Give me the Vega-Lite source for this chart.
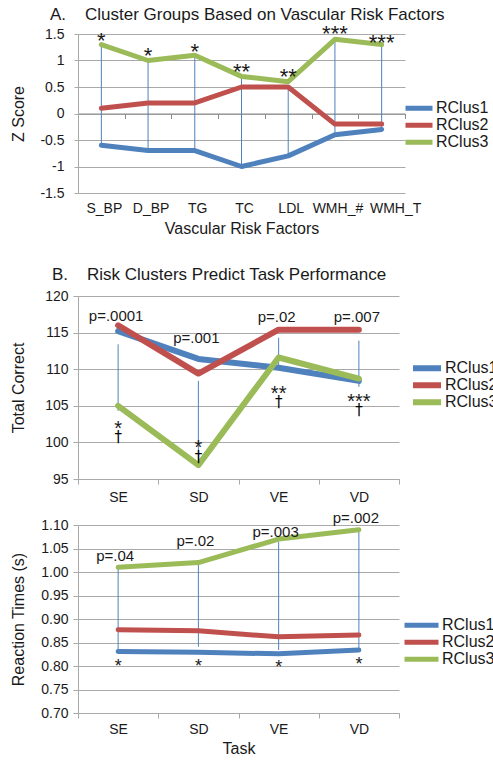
{
  "$schema": "https://vega.github.io/schema/vega-lite/v6.json",
  "padding": {"left": 10, "top": 6, "right": 0, "bottom": 0},
  "config": {
    "font": "Liberation Sans",
    "view": {"stroke": null},
    "axis": {
      "labelFont": "Liberation Sans", "titleFont": "Liberation Sans",
      "labelFontSize": 14, "titleFontSize": 16, "titleFontWeight": "normal",
      "labelColor": "#1a1a1a", "titleColor": "#1a1a1a",
      "gridColor": "#a9a9a9", "domainColor": "#a9a9a9", "tickColor": "#a9a9a9",
      "tickSize": 5, "labelOverlap": false
    },
    "legend": {"orient": "none", "title": null, "labelFontSize": 16, "labelColor": "#1a1a1a", "labelFont": "Liberation Sans", "symbolType": "stroke", "rowPadding": 0, "labelOffset": 1, "padding": 0, "clipHeight": 15.5},
    "title": {"fontSize": 17, "fontWeight": "normal", "anchor": "start", "frame": "group", "color": "#1a1a1a", "font": "Liberation Sans"},
    "concat": {"spacing": 7}
  },
  "resolve": {"scale": {"color": "independent"}, "legend": {"color": "independent"}},
  "datasets": {
    "zA": [
      {"factor": "S_BP", "cluster": "RClus1", "z": -0.6}, {"factor": "S_BP", "cluster": "RClus2", "z": 0.1}, {"factor": "S_BP", "cluster": "RClus3", "z": 1.3},
      {"factor": "D_BP", "cluster": "RClus1", "z": -0.7}, {"factor": "D_BP", "cluster": "RClus2", "z": 0.2}, {"factor": "D_BP", "cluster": "RClus3", "z": 1.0},
      {"factor": "TG", "cluster": "RClus1", "z": -0.7}, {"factor": "TG", "cluster": "RClus2", "z": 0.2}, {"factor": "TG", "cluster": "RClus3", "z": 1.1},
      {"factor": "TC", "cluster": "RClus1", "z": -1.0}, {"factor": "TC", "cluster": "RClus2", "z": 0.5}, {"factor": "TC", "cluster": "RClus3", "z": 0.7},
      {"factor": "LDL", "cluster": "RClus1", "z": -0.8}, {"factor": "LDL", "cluster": "RClus2", "z": 0.5}, {"factor": "LDL", "cluster": "RClus3", "z": 0.6},
      {"factor": "WMH_#", "cluster": "RClus1", "z": -0.4}, {"factor": "WMH_#", "cluster": "RClus2", "z": -0.2}, {"factor": "WMH_#", "cluster": "RClus3", "z": 1.4},
      {"factor": "WMH_T", "cluster": "RClus1", "z": -0.3}, {"factor": "WMH_T", "cluster": "RClus2", "z": -0.2}, {"factor": "WMH_T", "cluster": "RClus3", "z": 1.3}
    ],
    "rulesA": [
      {"factor": "S_BP", "lo": -0.6, "hi": 1.3}, {"factor": "D_BP", "lo": -0.7, "hi": 1.0},
      {"factor": "TG", "lo": -0.7, "hi": 1.1}, {"factor": "TC", "lo": -1.0, "hi": 0.7},
      {"factor": "LDL", "lo": -0.8, "hi": 0.5}, {"factor": "WMH_#", "lo": -0.4, "hi": 1.4},
      {"factor": "WMH_T", "lo": -0.3, "hi": 1.3}
    ],
    "starsA": [
      {"factor": "S_BP", "label": "*", "z": 1.49}, {"factor": "D_BP", "label": "*", "z": 1.2},
      {"factor": "TG", "label": "*", "z": 1.27}, {"factor": "TC", "label": "**", "z": 0.89},
      {"factor": "LDL", "label": "**", "z": 0.81}, {"factor": "WMH_#", "label": "***", "z": 1.61},
      {"factor": "WMH_T", "label": "***", "z": 1.45}
    ],
    "totB": [
      {"task": "SE", "cluster": "RClus1", "total": 115.2}, {"task": "SE", "cluster": "RClus2", "total": 116.0}, {"task": "SE", "cluster": "RClus3", "total": 105.0},
      {"task": "SD", "cluster": "RClus1", "total": 111.4}, {"task": "SD", "cluster": "RClus2", "total": 109.4}, {"task": "SD", "cluster": "RClus3", "total": 96.9},
      {"task": "VE", "cluster": "RClus1", "total": 110.2}, {"task": "VE", "cluster": "RClus2", "total": 115.4}, {"task": "VE", "cluster": "RClus3", "total": 111.6},
      {"task": "VD", "cluster": "RClus1", "total": 108.4}, {"task": "VD", "cluster": "RClus2", "total": 115.4}, {"task": "VD", "cluster": "RClus3", "total": 108.7}
    ],
    "rulesB": [
      {"task": "SE", "lo": 104.3, "hi": 113.4}, {"task": "SD", "lo": 97.5, "hi": 108.4},
      {"task": "VE", "lo": 110.2, "hi": 114.3}, {"task": "VD", "lo": 107.6, "hi": 113.9}
    ],
    "pB": [
      {"task": "SE", "label": "p=.0001", "total": 117.3}, {"task": "SD", "label": "p=.001", "total": 114.2},
      {"task": "VE", "label": "p=.02", "total": 117.1}, {"task": "VD", "label": "p=.007", "total": 117.1}
    ],
    "starsB": [
      {"task": "SE", "label": "*", "total": 102.6}, {"task": "SD", "label": "*", "total": 100.0},
      {"task": "VE", "label": "**", "total": 107.5}, {"task": "VD", "label": "***", "total": 106.4}
    ],
    "dagB": [
      {"task": "SE", "label": "†", "total": 100.7}, {"task": "SD", "label": "†", "total": 98.0},
      {"task": "VE", "label": "†", "total": 105.5}, {"task": "VD", "label": "†", "total": 104.4}
    ],
    "rtC": [
      {"task": "SE", "cluster": "RClus1", "rt": 0.831}, {"task": "SE", "cluster": "RClus2", "rt": 0.877}, {"task": "SE", "cluster": "RClus3", "rt": 1.01},
      {"task": "SD", "cluster": "RClus1", "rt": 0.829}, {"task": "SD", "cluster": "RClus2", "rt": 0.875}, {"task": "SD", "cluster": "RClus3", "rt": 1.02},
      {"task": "VE", "cluster": "RClus1", "rt": 0.826}, {"task": "VE", "cluster": "RClus2", "rt": 0.862}, {"task": "VE", "cluster": "RClus3", "rt": 1.07},
      {"task": "VD", "cluster": "RClus1", "rt": 0.834}, {"task": "VD", "cluster": "RClus2", "rt": 0.866}, {"task": "VD", "cluster": "RClus3", "rt": 1.09}
    ],
    "rulesC": [
      {"task": "SE", "lo": 0.830, "hi": 1.010}, {"task": "SD", "lo": 0.841, "hi": 1.015},
      {"task": "VE", "lo": 0.834, "hi": 1.064}, {"task": "VD", "lo": 0.832, "hi": 1.091}
    ],
    "pC": [
      {"task": "SE", "label": "p=.04", "rt": 1.033}, {"task": "SD", "label": "p=.02", "rt": 1.067},
      {"task": "VE", "label": "p=.003", "rt": 1.086}, {"task": "VD", "label": "p=.002", "rt": 1.114}
    ],
    "starsC": [
      {"task": "SE", "label": "*", "rt": 0.809}, {"task": "SD", "label": "*", "rt": 0.809},
      {"task": "VE", "label": "*", "rt": 0.806}, {"task": "VD", "label": "*", "rt": 0.813}
    ]
  },
  "vconcat": [
    {
      "title": {"text": "A.\u00a0\u00a0\u00a0\u00a0Cluster Groups Based on Vascular Risk Factors", "dx": -28, "offset": -1},
      "width": 327,
      "height": 159,
      "resolve": {"axis": {"x": "independent"}},
      "layer": [
        {
          "data": {"name": "rulesA"},
          "mark": {"type": "rule", "color": "#4F81BD", "strokeWidth": 1},
          "encoding": {
            "x": {"field": "factor", "type": "nominal", "sort": ["S_BP", "D_BP", "TG", "TC", "LDL", "WMH_#", "WMH_T"], "bandPosition": 0.5,
              "scale": {"type": "band", "paddingInner": 0, "paddingOuter": 0},
              "axis": {"orient": "bottom", "offset": -79.5, "labels": false, "title": null, "domain": true, "domainColor": "#8c8c8c", "ticks": true, "tickColor": "#8c8c8c", "tickBand": "extent", "tickSize": 5, "grid": false}},
            "y": {"field": "lo", "type": "quantitative", "scale": {"domain": [-1.5, 1.5], "nice": false, "zero": false},
              "axis": {"values": [-1.5, -1, -0.5, 0, 0.5, 1, 1.5], "labelExpr": "'' + datum.value", "title": "Z Score", "grid": true, "tickSize": 4, "labelPadding": 10, "titlePadding": 13}},
            "y2": {"field": "hi"}
          }
        },
        {
          "data": {"name": "zA"},
          "mark": {"type": "line", "strokeWidth": 5, "strokeCap": "round", "strokeJoin": "round"},
          "encoding": {
            "x": {"field": "factor", "type": "nominal", "sort": ["S_BP", "D_BP", "TG", "TC", "LDL", "WMH_#", "WMH_T"], "bandPosition": 0.5,
              "axis": {"orient": "bottom", "domain": false, "ticks": false, "grid": false, "labelAngle": 0, "labelPadding": 8, "labelFontSize": 14,
                "labelOffset": {"condition": {"test": "datum.value === 'WMH_T'", "value": 14}, "value": 3},
                "title": "Vascular Risk Factors", "titlePadding": 5}},
            "y": {"field": "z", "type": "quantitative",
              "axis": {"values": [-1.5, -1, -0.5, 0, 0.5, 1, 1.5], "labelExpr": "'' + datum.value", "title": "Z Score", "grid": true, "tickSize": 4, "labelPadding": 10, "titlePadding": 13}},
            "color": {"field": "cluster", "type": "nominal",
              "scale": {"domain": ["RClus1", "RClus2", "RClus3"], "range": ["#4F81BD", "#C0504D", "#9BBB59"]},
              "legend": {"legendX": 325, "legendY": 66.5, "symbolStrokeWidth": 5, "symbolSize": 729}}
          }
        },
        {
          "data": {"name": "starsA"},
          "mark": {"type": "text", "fontSize": 22, "baseline": "middle", "dy": 6, "color": "#1a1a1a", "font": "Liberation Sans"},
          "encoding": {
            "x": {"field": "factor", "type": "nominal", "sort": ["S_BP", "D_BP", "TG", "TC", "LDL", "WMH_#", "WMH_T"], "bandPosition": 0.5, "axis": null},
            "y": {"field": "z", "type": "quantitative",
              "axis": {"values": [-1.5, -1, -0.5, 0, 0.5, 1, 1.5], "labelExpr": "'' + datum.value", "title": "Z Score", "grid": true, "tickSize": 4, "labelPadding": 10, "titlePadding": 13}},
            "text": {"field": "label"}
          }
        }
      ]
    },
    {
      "title": {"text": ["\u00a0", "B.\u00a0\u00a0\u00a0\u00a0Risk Clusters Predict Task Performance"], "lineHeight": 23, "dx": -26, "offset": 5},
      "width": 321,
      "height": 183,
      "layer": [
        {
          "data": {"name": "rulesB"},
          "mark": {"type": "rule", "color": "#4F81BD", "strokeWidth": 1},
          "encoding": {
            "x": {"field": "task", "type": "nominal", "sort": ["SE", "SD", "VE", "VD"], "bandPosition": 0.5,
              "scale": {"type": "band", "paddingInner": 0, "paddingOuter": 0},
              "axis": {"orient": "bottom", "title": null, "domain": true, "ticks": true, "tickBand": "extent", "tickSize": 5, "labelPadding": 6, "labelAngle": 0, "grid": false}},
            "y": {"field": "lo", "type": "quantitative", "scale": {"domain": [95, 120], "nice": false, "zero": false},
              "axis": {"values": [95, 100, 105, 110, 115, 120], "title": "Total Correct", "grid": true, "tickSize": 5, "labelPadding": 5, "titlePadding": 18}},
            "y2": {"field": "hi"}
          }
        },
        {
          "data": {"name": "totB"},
          "mark": {"type": "line", "strokeWidth": 6, "strokeCap": "round", "strokeJoin": "round"},
          "encoding": {
            "x": {"field": "task", "type": "nominal", "sort": ["SE", "SD", "VE", "VD"], "bandPosition": 0.5,
              "axis": {"orient": "bottom", "title": null, "domain": true, "ticks": true, "tickBand": "extent", "tickSize": 5, "labelPadding": 6, "labelAngle": 0, "grid": false}},
            "y": {"field": "total", "type": "quantitative",
              "axis": {"values": [95, 100, 105, 110, 115, 120], "title": "Total Correct", "grid": true, "tickSize": 5, "labelPadding": 5, "titlePadding": 18}},
            "color": {"field": "cluster", "type": "nominal",
              "scale": {"domain": ["RClus1", "RClus2", "RClus3"], "range": ["#4F81BD", "#C0504D", "#9BBB59"]},
              "legend": {"legendX": 332, "legendY": 64.5, "symbolStrokeWidth": 6, "symbolSize": 784}}
          }
        },
        {
          "data": {"name": "pB"},
          "mark": {"type": "text", "fontSize": 15, "baseline": "middle", "dx": -2, "color": "#1a1a1a", "font": "Liberation Sans"},
          "encoding": {
            "x": {"field": "task", "type": "nominal", "sort": ["SE", "SD", "VE", "VD"], "bandPosition": 0.5,
              "axis": {"orient": "bottom", "title": null, "domain": true, "ticks": true, "tickBand": "extent", "tickSize": 5, "labelPadding": 6, "labelAngle": 0, "grid": false}},
            "y": {"field": "total", "type": "quantitative",
              "axis": {"values": [95, 100, 105, 110, 115, 120], "title": "Total Correct", "grid": true, "tickSize": 5, "labelPadding": 5, "titlePadding": 18}},
            "text": {"field": "label"}
          }
        },
        {
          "data": {"name": "starsB"},
          "mark": {"type": "text", "fontSize": 20, "baseline": "middle", "dy": 6, "color": "#1a1a1a", "font": "Liberation Sans"},
          "encoding": {
            "x": {"field": "task", "type": "nominal", "sort": ["SE", "SD", "VE", "VD"], "bandPosition": 0.5,
              "axis": {"orient": "bottom", "title": null, "domain": true, "ticks": true, "tickBand": "extent", "tickSize": 5, "labelPadding": 6, "labelAngle": 0, "grid": false}},
            "y": {"field": "total", "type": "quantitative",
              "axis": {"values": [95, 100, 105, 110, 115, 120], "title": "Total Correct", "grid": true, "tickSize": 5, "labelPadding": 5, "titlePadding": 18}},
            "text": {"field": "label"}
          }
        },
        {
          "data": {"name": "dagB"},
          "mark": {"type": "text", "fontSize": 15, "baseline": "middle", "color": "#000000", "font": "DejaVu Sans"},
          "encoding": {
            "x": {"field": "task", "type": "nominal", "sort": ["SE", "SD", "VE", "VD"], "bandPosition": 0.5,
              "axis": {"orient": "bottom", "title": null, "domain": true, "ticks": true, "tickBand": "extent", "tickSize": 5, "labelPadding": 6, "labelAngle": 0, "grid": false}},
            "y": {"field": "total", "type": "quantitative",
              "axis": {"values": [95, 100, 105, 110, 115, 120], "title": "Total Correct", "grid": true, "tickSize": 5, "labelPadding": 5, "titlePadding": 18}},
            "text": {"field": "label"}
          }
        }
      ]
    },
    {
      "width": 321,
      "height": 188,
      "layer": [
        {
          "data": {"name": "rulesC"},
          "mark": {"type": "rule", "color": "#4F81BD", "strokeWidth": 1},
          "encoding": {
            "x": {"field": "task", "type": "nominal", "sort": ["SE", "SD", "VE", "VD"], "bandPosition": 0.5,
              "scale": {"type": "band", "paddingInner": 0, "paddingOuter": 0},
              "axis": {"orient": "bottom", "title": "Task", "titlePadding": 4, "domain": true, "ticks": true, "tickBand": "extent", "tickSize": 5, "labelPadding": 4, "labelAngle": 0, "grid": false}},
            "y": {"field": "lo", "type": "quantitative", "scale": {"domain": [0.7, 1.1], "nice": false, "zero": false},
              "axis": {"values": [0.7, 0.75, 0.8, 0.85, 0.9, 0.95, 1.0, 1.05, 1.1], "format": ".2f", "title": "Reaction Times (s)", "grid": true, "tickSize": 5, "labelPadding": 5, "titlePadding": 14}},
            "y2": {"field": "hi"}
          }
        },
        {
          "data": {"name": "rtC"},
          "mark": {"type": "line", "strokeWidth": 5, "strokeCap": "round", "strokeJoin": "round"},
          "encoding": {
            "x": {"field": "task", "type": "nominal", "sort": ["SE", "SD", "VE", "VD"], "bandPosition": 0.5,
              "axis": {"orient": "bottom", "title": "Task", "titlePadding": 4, "domain": true, "ticks": true, "tickBand": "extent", "tickSize": 5, "labelPadding": 4, "labelAngle": 0, "grid": false}},
            "y": {"field": "rt", "type": "quantitative",
              "axis": {"values": [0.7, 0.75, 0.8, 0.85, 0.9, 0.95, 1.0, 1.05, 1.1], "format": ".2f", "title": "Reaction Times (s)", "grid": true, "tickSize": 5, "labelPadding": 5, "titlePadding": 14}},
            "color": {"field": "cluster", "type": "nominal",
              "scale": {"domain": ["RClus1", "RClus2", "RClus3"], "range": ["#4F81BD", "#C0504D", "#9BBB59"]},
              "legend": {"legendX": 324, "legendY": 92.5, "symbolStrokeWidth": 5, "symbolSize": 1156}}
          }
        },
        {
          "data": {"name": "pC"},
          "mark": {"type": "text", "fontSize": 15, "baseline": "middle", "dx": -3, "color": "#1a1a1a", "font": "Liberation Sans"},
          "encoding": {
            "x": {"field": "task", "type": "nominal", "sort": ["SE", "SD", "VE", "VD"], "bandPosition": 0.5,
              "axis": {"orient": "bottom", "title": "Task", "titlePadding": 4, "domain": true, "ticks": true, "tickBand": "extent", "tickSize": 5, "labelPadding": 4, "labelAngle": 0, "grid": false}},
            "y": {"field": "rt", "type": "quantitative",
              "axis": {"values": [0.7, 0.75, 0.8, 0.85, 0.9, 0.95, 1.0, 1.05, 1.1], "format": ".2f", "title": "Reaction Times (s)", "grid": true, "tickSize": 5, "labelPadding": 5, "titlePadding": 14}},
            "text": {"field": "label"}
          }
        },
        {
          "data": {"name": "starsC"},
          "mark": {"type": "text", "fontSize": 18, "baseline": "middle", "dy": 5, "color": "#1a1a1a", "font": "Liberation Sans"},
          "encoding": {
            "x": {"field": "task", "type": "nominal", "sort": ["SE", "SD", "VE", "VD"], "bandPosition": 0.5,
              "axis": {"orient": "bottom", "title": "Task", "titlePadding": 4, "domain": true, "ticks": true, "tickBand": "extent", "tickSize": 5, "labelPadding": 4, "labelAngle": 0, "grid": false}},
            "y": {"field": "rt", "type": "quantitative",
              "axis": {"values": [0.7, 0.75, 0.8, 0.85, 0.9, 0.95, 1.0, 1.05, 1.1], "format": ".2f", "title": "Reaction Times (s)", "grid": true, "tickSize": 5, "labelPadding": 5, "titlePadding": 14}},
            "text": {"field": "label"}
          }
        }
      ]
    }
  ]
}
